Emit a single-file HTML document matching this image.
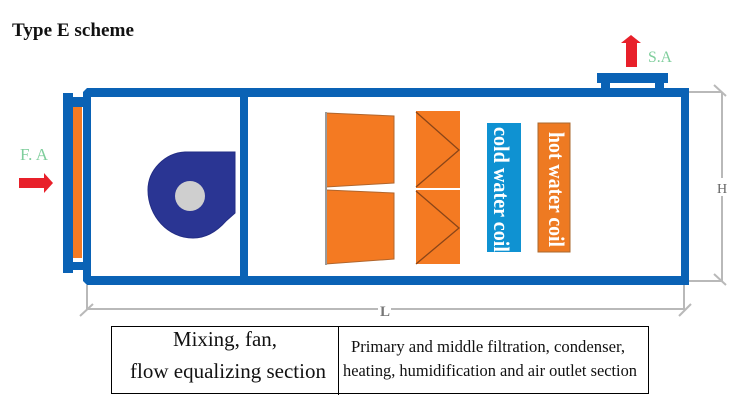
<!DOCTYPE html>
<html>
<head>
<meta charset="utf-8">
<style>
html,body{margin:0;padding:0;background:#fff;width:750px;height:404px;overflow:hidden}
svg{display:block;filter:blur(0.35px)}
text{font-family:"Liberation Serif",serif}
</style>
</head>
<body>
<svg width="750" height="404" viewBox="0 0 750 404" xmlns="http://www.w3.org/2000/svg">
<rect width="750" height="404" fill="#fff"/>
<text x="12" y="36" font-size="19" font-weight="bold" fill="#111" textLength="122" lengthAdjust="spacingAndGlyphs">Type E scheme</text>

<!-- dimension lines -->
<g stroke="#b9b9b9" stroke-width="2" fill="none">
<line x1="686" y1="92" x2="722" y2="92"/>
<line x1="686" y1="281" x2="722" y2="281"/>
<line x1="722" y1="92" x2="722" y2="178"/>
<line x1="722" y1="196" x2="722" y2="281"/>
<line x1="714" y1="85" x2="726" y2="96"/>
<line x1="714" y1="274" x2="726" y2="285"/>
<line x1="87" y1="285" x2="87" y2="310"/>
<line x1="684" y1="285" x2="684" y2="310"/>
<line x1="87" y1="309" x2="378" y2="309"/>
<line x1="391" y1="309" x2="684" y2="309"/>
<line x1="80" y1="316" x2="93" y2="304"/>
<line x1="679" y1="316" x2="691" y2="304"/>
</g>
<text x="717" y="193" font-size="14" fill="#666">H</text>
<text x="380" y="316" font-size="15" font-weight="bold" fill="#777">L</text>

<!-- casing -->
<g fill="#0a62b5">
<path d="M87 88 L689 88 L689 285 L87 285 L83 281 L83 92 Z"/>
<!-- inlet frame -->
<rect x="63" y="93" width="10" height="180"/>
<rect x="70" y="97" width="15" height="10"/>
<rect x="70" y="262" width="15" height="8"/>
<!-- outlet -->
<rect x="597" y="73" width="71" height="10"/>
<rect x="601" y="80" width="9" height="10"/>
<rect x="655" y="80" width="9" height="10"/>
</g>
<rect x="91" y="97" width="149" height="179" fill="#fff"/>
<rect x="248" y="97" width="433" height="179" fill="#fff"/>
<rect x="73" y="107" width="9" height="151" fill="#f47a22"/>

<!-- fan -->
<path d="M235 152 L185 152 C165 153 148 170 148 190 C148 216 168 238 193 238 C207 238 218 230 226 221 L235 213 Z" fill="#2a3593" stroke="#232d84" stroke-width="1"/>
<circle cx="190" cy="196" r="15" fill="#cfcfcf"/>

<!-- filters -->
<g fill="#f47a22">
<path d="M326 113 L394 116 L394 183 L326 187 Z" stroke="#b0652c" stroke-width="1"/>
<path d="M326 190 L394 193 L394 259 L326 264 Z" stroke="#b0652c" stroke-width="1"/>
<rect x="416" y="111" width="44" height="77"/>
<rect x="416" y="190" width="44" height="74"/>
</g>
<line x1="326" y1="112" x2="326" y2="265" stroke="#999" stroke-width="2"/>
<g stroke="#8a4518" stroke-width="1.3" fill="none">
<polyline points="416,112 459,150 416,187"/>
<polyline points="416,191 459,228 416,264"/>
</g>

<!-- coils -->
<rect x="487" y="123" width="34" height="129" fill="#0f92d2"/>
<rect x="538" y="123" width="32" height="129" fill="#ee7a22" stroke="#a9682f" stroke-width="1"/>
<text transform="translate(494,127) rotate(90)" font-size="22" font-weight="bold" fill="#fff" textLength="125" lengthAdjust="spacingAndGlyphs">cold water coil</text>
<text transform="translate(549,132) rotate(90)" font-size="22" font-weight="bold" fill="#fff" textLength="115" lengthAdjust="spacingAndGlyphs">hot water coil</text>

<!-- arrows -->
<path d="M19 178 L44 178 L44 173 L53 183 L44 193 L44 188 L19 188 Z" fill="#e8202a"/>
<path d="M631 35 L641 43 L637 43 L637 67 L626 67 L626 43 L621 43 Z" fill="#e8202a"/>
<text x="20" y="160" font-size="17" fill="#7fce9c" textLength="28" lengthAdjust="spacingAndGlyphs">F. A</text>
<text x="648" y="62" font-size="16" fill="#7fce9c" textLength="24" lengthAdjust="spacingAndGlyphs">S.A</text>

<!-- table -->
<rect x="111.500" y="326.500" width="537" height="67" fill="none" stroke="#000" stroke-width="1"/>
<line x1="338.500" y1="326" x2="338.500" y2="395" stroke="#000" stroke-width="1"/>
<text x="173" y="346" font-size="21" fill="#111" textLength="104" lengthAdjust="spacingAndGlyphs">Mixing, fan,</text>
<text x="130" y="378" font-size="21" fill="#111" textLength="196" lengthAdjust="spacingAndGlyphs">flow equalizing section</text>
<text x="351" y="352" font-size="16.600" fill="#111" textLength="274" lengthAdjust="spacingAndGlyphs">Primary and middle  filtration, condenser,</text>
<text x="343" y="376" font-size="16.600" fill="#111" textLength="294" lengthAdjust="spacingAndGlyphs">heating, humidification and air outlet section</text>
</svg>
</body>
</html>
